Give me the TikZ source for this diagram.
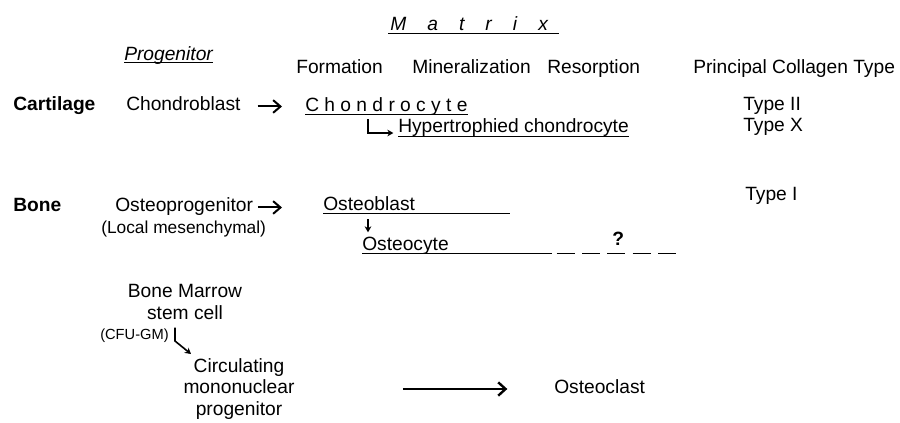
\documentclass[tikz,border=0pt]{standalone}
\usepackage{fontspec}
\setmainfont{Liberation Sans}
\usetikzlibrary{arrows.meta,calc}
\newcommand{\mgap}{\hspace{15.8pt}}
\tikzset{
  lbl/.style={inner sep=0pt,anchor=base west,font=\fontsize{14.4}{17}\selectfont},
  hdr/.style={lbl,font=\fontsize{14.4}{17}\selectfont\bfseries},
  ital/.style={lbl,font=\fontsize{14.4}{17}\selectfont\itshape},
  note/.style={lbl,font=\fontsize{13}{15}\selectfont},
  tiny/.style={lbl,font=\fontsize{11}{13}\selectfont},
  stack/.style={inner sep=0pt,align=center,font=\fontsize{14.4}{16}\selectfont},
  ul/.style={line width=1pt},
  arr/.style={-{Straight Barb[length=5.5pt,width=9.5pt]},line width=1.5pt},
  sarr/.style={-{Stealth[length=4.5pt,width=5pt]},line width=1.2pt},
  larr/.style={-{Straight Barb[length=5.5pt,width=10pt]},line width=1.8pt},
}

\begin{document}
\begin{tikzpicture}[x=0.75pt,y=-0.75pt]
  \useasboundingbox[fill=white] (0,0) rectangle (900,422);

  % column heads
  \node[ital] (matrix) at (390,30) {M\mgap a\mgap t\mgap r\mgap i\mgap x};
  \node[ital] (prog) at (124,60) {Progenitor};
  \node[lbl] (form) at (296,73) {Formation};
  \node[lbl] (mine) at (412,73) {Mineralization};
  \node[lbl] (reso) at (547,73) {Resorption};
  \node[lbl] (coll) at (693,73) {Principal Collagen Type};
  \draw[ul] ([xshift=-1.5pt,yshift=-2.5pt]matrix.base west) -- ([xshift=8pt,yshift=-2.5pt]matrix.base east);
  \draw[ul] ([yshift=-1.8pt]prog.base west) -- ([yshift=-1.8pt]prog.base east);

  % cartilage
  \node[hdr] (cart) at (13,110) {Cartilage};
  \node[lbl] (cblast) at (126,110) {Chondroblast};
  \node[lbl] (cyte) at (305,111) {C h o n d r o c y t e};
  \node[lbl] (hyper) at (398,132) {Hypertrophied chondrocyte};
  \node[lbl] (t2) at (743,110) {Type II};
  \node[lbl] (tx) at (743,131) {Type X};
  \draw[ul] ([yshift=-2.6pt]cyte.base west) -- ([yshift=-2.6pt]cyte.base east);
  \draw[ul] ([yshift=-3.4pt]hyper.base west) -- ([yshift=-3.4pt]hyper.base east);
  \draw[arr,shorten <=12.75pt,shorten >=17.25pt] (cblast.mid east) -- (cyte.mid west |- cblast.mid east);
  \coordinate (hbend) at (368,133);
  \draw[sarr] ([yshift=-3pt]cyte.south -| hbend) -- (hbend) -- ([xshift=-3.5pt]hyper.west |- hbend);

  % bone
  \node[hdr] (bone) at (13,211) {Bone};
  \node[lbl] (oprog) at (115,211) {Osteoprogenitor};
  \node[note] (local) at (101,233) {(Local mesenchymal)};
  \node[lbl] (oblast) at (323,210) {Osteoblast};
  \node[lbl] (ocyte) at (362,250) {Osteocyte};
  \node[hdr] (qm) at (612,245) {?};
  \node[lbl] (t1) at (745,200) {Type I};
  \draw[arr,shorten <=3.5pt,shorten >=30.75pt] (oprog.mid east) -- (oblast.mid west |- oprog.mid east);
  \draw[ul] ([yshift=-2.4pt]oblast.base west) -- ++(187,0);
  \draw[ul] ([yshift=-2.4pt]ocyte.base west) -- ++(190,0);
  \draw[ul,dash pattern=on 13.5pt off 5.5pt] ([xshift=146pt,yshift=-2.4pt]ocyte.base west) -- ++(120,0);
  \draw[sarr] ([xshift=4.5pt,yshift=-7pt]oblast.base west -| ocyte.west) -- ([xshift=4.5pt,yshift=3pt]ocyte.north west);

  % osteoclast lineage
  \node[stack] (marrow) at (185,302) {Bone Marrow\\stem cell};
  \node[tiny] (cfu) at (100,339) {(CFU-GM)};
  \node[stack,font=\fontsize{14.4}{16.2}\selectfont] (circ) at (239,389) {Circulating\\mononuclear\\progenitor};
  \node[lbl] (oclast) at (554,393) {Osteoclast};
  \coordinate (mbend) at (175,341);
  \coordinate (mtip) at (191,354);
  \draw[sarr] ([yshift=-6pt]marrow.south -| mbend) -- (mbend) -- (mtip);
  \draw[larr,shorten <=81pt,shorten >=35pt] (circ.east) -- (circ.east -| oclast.west);
\end{tikzpicture}
\end{document}
